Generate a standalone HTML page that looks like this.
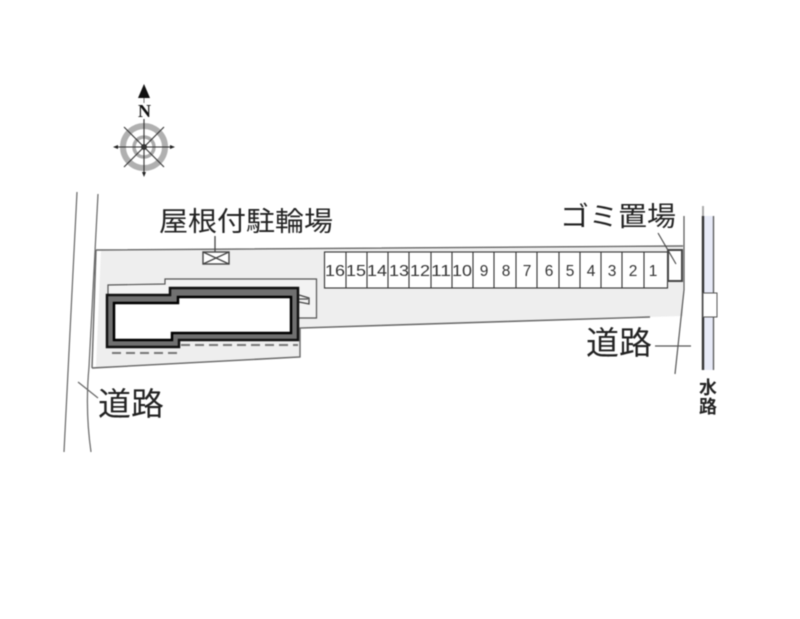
<!DOCTYPE html>
<html><head><meta charset="utf-8"><style>
html,body{margin:0;padding:0;background:#fff}
svg{display:block;filter:blur(0.45px)}
text{font-family:"Liberation Sans","Noto Sans CJK JP",sans-serif;fill:#222}
.n{font-size:15.500px;text-anchor:middle;fill:#333}
.j{font-size:27px}
</style></head><body>
<svg width="800" height="619" viewBox="0 0 800 619" xmlns="http://www.w3.org/2000/svg">
<g fill="none" stroke="#666" stroke-width="1.2">
<path d="M77 192L64 452"/>
<path d="M98 194L89 367Q85 410 91 452"/>
<path d="M78 382L98 398"/>
</g>
<path d="M101 250L683 247V316L300 328V357L96 367Z" fill="#eee"/>
<path d="M96 250L683 246M92 368L300 357V328L650 317M96 250L92 368" fill="none" stroke="#666" stroke-width="1.4"/>
<path d="M108 295V285L165 284V279L316.500 279V318H298" fill="#f3f3f3" stroke="#555" stroke-width="1.2"/>
<path d="M107 295H170V288H298V340H179V347H107Z" fill="#707070" stroke="#111" stroke-width="2.500"/>
<path d="M114 303H178V297H291V333H172V340H114Z" fill="#fff" stroke="#000" stroke-width="2.500"/>
<path d="M299 295L309 298V304L299 302M299 299H308" fill="none" stroke="#444" stroke-width="1.300"/>
<path d="M112 353H178M181 345H298" stroke="#777" stroke-width="2" stroke-dasharray="9 5" fill="none"/>
<rect x="203" y="252" width="26" height="12" fill="#fff" stroke="#444" stroke-width="1.400"/>
<path d="M203 252L229 264M229 252L203 264M215 236V252" stroke="#444" stroke-width="1.300" fill="none"/>
<rect x="324.500" y="252" width="343" height="36" fill="#fff" stroke="#333" stroke-width="1.100"/>
<path d="M346 252V288M367 252V288M388 252V288M409 252V288M431 252V288M452 252V288M473 252V288M494 252V288M516 252V288M537 252V288M559 252V288M580 252V288M601 252V288M622 252V288M644 252V288" stroke="#333" stroke-width="1.100" fill="none"/>
<g>
<text class="n" x="335" y="276" textLength="20" lengthAdjust="spacingAndGlyphs">16</text><text class="n" x="356" y="276" textLength="20" lengthAdjust="spacingAndGlyphs">15</text><text class="n" x="377" y="276" textLength="20" lengthAdjust="spacingAndGlyphs">14</text><text class="n" x="399" y="276" textLength="20" lengthAdjust="spacingAndGlyphs">13</text><text class="n" x="420" y="276" textLength="20" lengthAdjust="spacingAndGlyphs">12</text><text class="n" x="441" y="276" textLength="20" lengthAdjust="spacingAndGlyphs">11</text><text class="n" x="462" y="276" textLength="20" lengthAdjust="spacingAndGlyphs">10</text><text class="n" x="484" y="276">9</text><text class="n" x="506" y="276">8</text><text class="n" x="527" y="276">7</text><text class="n" x="549" y="276">6</text><text class="n" x="570" y="276">5</text><text class="n" x="591" y="276">4</text><text class="n" x="612" y="276">3</text><text class="n" x="633" y="276">2</text><text class="n" x="653" y="276">1</text>
</g>
<rect x="668" y="250" width="14" height="31" fill="#fff" stroke="#444" stroke-width="2"/>
<path d="M658 233L676 264" stroke="#444" stroke-width="1.100" fill="none"/>
<path d="M684 216V290L675 374M655 346H691" stroke="#555" stroke-width="1.200" fill="none"/>
<rect x="703" y="216" width="11" height="154" fill="#e8ebf8"/>
<path d="M703 216V370" stroke="#333" stroke-width="2.400"/>
<path d="M703 206V216" stroke="#aaa" stroke-width="2"/>
<path d="M713.500 216V370" stroke="#555" stroke-width="1.300"/>
<rect x="703" y="293" width="14" height="24" fill="#fff" stroke="#555" stroke-width="1"/>
<g transform="translate(144 147)">
<circle r="21" fill="none" stroke="#b0b0b0" stroke-width="6"/>
<circle r="10" fill="none" stroke="#aaa" stroke-width="3.500"/>
<path d="M-30 0H30M0 -28V28M-20 -20L20 20M20 -20L-20 20" stroke="#333" stroke-width="1.100"/>
<circle r="3" fill="#333"/>
<path d="M-31 0L-26 -2V2ZM31 0L26 -2V2ZM0 30L-2 25H2Z" fill="#222"/>
</g>
<path d="M144 84L150 98H138Z" fill="#111"/>
<path d="M144 98V103" stroke="#777" stroke-width="1"/>
<text x="144.500" y="117" text-anchor="middle" style="font-family:'Liberation Serif',serif;font-weight:bold;font-size:18px;fill:#111">N</text>
<text class="j" x="159" y="231" textLength="174" lengthAdjust="spacingAndGlyphs">屋根付駐輪場</text>
<text class="j" x="560" y="226" textLength="116" lengthAdjust="spacingAndGlyphs">ゴミ置場</text>
<text class="j" x="586" y="354" style="font-size:32px" textLength="66" lengthAdjust="spacingAndGlyphs">道路</text>
<text class="j" x="98" y="415" style="font-size:32px" textLength="66" lengthAdjust="spacingAndGlyphs">道路</text>
<text x="708" y="394" text-anchor="middle" style="font-size:18px;font-weight:bold">水</text>
<text x="708" y="413" text-anchor="middle" style="font-size:18px;font-weight:bold">路</text>
</svg>
</body></html>
